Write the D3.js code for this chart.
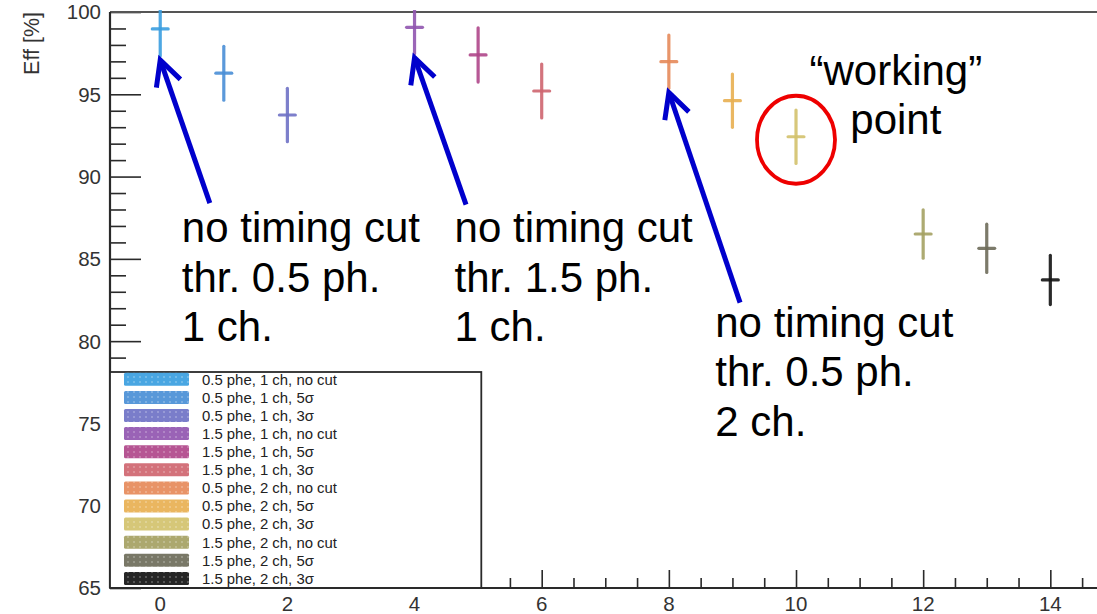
<!DOCTYPE html>
<html>
<head>
<meta charset="utf-8">
<script src="https://cdn.jsdelivr.net/npm/d3@7"></script>
<style>
  html, body { margin: 0; padding: 0; background: #fff; }
  svg { display: block; }
</style>
</head>
<body>
<svg id="chart" width="1097" height="614"></svg>
<script>
// Efficiency per configuration (threshold, channels, timing cut)
const configs = [
  "0.5 phe, 1 ch, no cut", "0.5 phe, 1 ch, 5σ", "0.5 phe, 1 ch, 3σ",
  "1.5 phe, 1 ch, no cut", "1.5 phe, 1 ch, 5σ", "1.5 phe, 1 ch, 3σ",
  "0.5 phe, 2 ch, no cut", "0.5 phe, 2 ch, 5σ", "0.5 phe, 2 ch, 3σ",
  "1.5 phe, 2 ch, no cut", "1.5 phe, 2 ch, 5σ", "1.5 phe, 2 ch, 3σ"
];
const xPos   = [0, 1, 2, 4, 5, 6, 8, 9, 10, 12, 13, 14];
const eff    = [98.97, 96.28, 93.74, 99.07, 97.39, 95.20, 96.98, 94.61, 92.42, 86.51, 85.64, 83.72];
const effErr = [1.64, 1.64, 1.62, 1.60, 1.65, 1.64, 1.62, 1.62, 1.62, 1.47, 1.47, 1.50];
const xErr   = 0.125;
const colors = ["#3a9ee0", "#4a8fd6", "#6f72c6", "#9156b0", "#b0478a", "#cf6670",
                "#e68a5a", "#e8b052", "#d3c26c", "#a5a163", "#6e6c5a", "#141414"];

const yTicksMajor = [65, 70, 75, 80, 85, 90, 95, 100];
const xTicksMajor = [0, 2, 4, 6, 8, 10, 12, 14];

// Annotations: arrows point at the no-cut configurations
const arrowTargets = [0, 3, 6];                 // indices into the series
const arrowTails = [[0.78, 88.39], [4.81, 88.30], [9.12, 82.34]];
const noteBlocks = [
  { x: 0.34, y: 86.0, lines: ["no timing cut", "thr. 0.5 ph.", "1 ch."] },
  { x: 4.63, y: 86.0, lines: ["no timing cut", "thr. 1.5 ph.", "1 ch."] },
  { x: 8.73, y: 80.27, lines: ["no timing cut", "thr. 0.5 ph.", "2 ch."] }
];
const workingIdx = 8;
const workingNote = { x: 11.57, y: 95.56, lines: ["\u201Cworking\u201D", "point"] };

const svg = d3.select("#chart");
const W = 1097, H = 614;
const padL = 110, padT = 12, padB = 588, padR = 1105;

const x = d3.scaleLinear().domain([-0.79, 14.86]).range([padL, padR]);
const y = d3.scaleLinear().domain([65, 100]).range([padB, padT]);

svg.append("rect").attr("width", W).attr("height", H).attr("fill", "#fff");

const defs = svg.append("defs");
defs.append("clipPath").attr("id", "frameClip")
  .append("rect").attr("x", padL).attr("y", padT - 2)
  .attr("width", padR - padL).attr("height", padB - padT + 2);

// dotted fill texture for legend swatches
const pat = defs.append("pattern").attr("id", "dots")
  .attr("patternUnits", "userSpaceOnUse").attr("width", 6).attr("height", 5);
pat.append("rect").attr("x", 1).attr("y", 1).attr("width", 2).attr("height", 2)
  .attr("fill", "#fff").attr("opacity", 0.22);

// ---- axes ----
const axisColor = "#2a2a2a";
const tickFont = "Liberation Sans, Arial, Helvetica, sans-serif";

// Y ticks: drawn inward from the left axis
const yAxis = d3.axisRight(y).tickValues(yTicksMajor).tickSize(31).tickFormat("");
const yMinor = d3.axisRight(y).tickValues(d3.range(65, 100.01, 1).filter(v => v % 5 !== 0))
  .tickSize(16).tickFormat("");
const gy = svg.append("g").attr("transform", `translate(${padL},0)`);
gy.call(yAxis); gy.append("g").call(yMinor);
gy.selectAll("path.domain").remove();
gy.selectAll("line").attr("stroke", axisColor).attr("stroke-width", 1.6);

// X ticks: drawn upward from the bottom axis
const xAxis = d3.axisTop(x).tickValues(xTicksMajor).tickSize(18).tickFormat("");
const xMinor = d3.axisTop(x).tickValues(d3.range(-0.5, 14.9, 0.5).filter(v => v % 2 !== 0))
  .tickSize(10).tickFormat("");
const gx = svg.append("g").attr("transform", `translate(0,${padB})`);
gx.call(xAxis); gx.append("g").call(xMinor);
gx.selectAll("path.domain").remove();
gx.selectAll("line").attr("stroke", axisColor).attr("stroke-width", 1.6);

// frame lines
svg.append("line").attr("x1", padL).attr("x2", padR).attr("y1", padT).attr("y2", padT)
  .attr("stroke", "#555").attr("stroke-width", 2);
svg.append("line").attr("x1", padL).attr("x2", padR).attr("y1", padB).attr("y2", padB)
  .attr("stroke", axisColor).attr("stroke-width", 2.2);
svg.append("line").attr("x1", padL).attr("x2", padL).attr("y1", padT).attr("y2", padB)
  .attr("stroke", axisColor).attr("stroke-width", 2.2);

// tick labels
svg.append("g").selectAll("text").data(yTicksMajor).join("text")
  .attr("x", 101).attr("y", d => y(d)).attr("dy", "0.36em")
  .attr("text-anchor", "end").attr("font-family", tickFont).attr("font-size", 20.5)
  .attr("fill", "#333").text(d => d);
svg.append("g").selectAll("text").data(xTicksMajor).join("text")
  .attr("x", d => x(d)).attr("y", 611)
  .attr("text-anchor", "middle").attr("font-family", tickFont).attr("font-size", 20.5)
  .attr("fill", "#333").text(d => d);

// y title
svg.append("text").attr("transform", `translate(39,12) rotate(-90)`)
  .attr("text-anchor", "end").attr("font-family", tickFont).attr("font-size", 21.5)
  .attr("fill", "#333").text("Eff [%]");

// ---- data: error crosses ----
const pts = svg.append("g").attr("clip-path", "url(#frameClip)")
  .selectAll("g").data(configs.map((c, i) => i)).join("g");
pts.append("line")
  .attr("x1", i => x(xPos[i])).attr("x2", i => x(xPos[i]))
  .attr("y1", i => y(eff[i] + effErr[i])).attr("y2", i => y(eff[i] - effErr[i]))
  .attr("stroke", i => colors[i]).attr("stroke-width", 3.2).attr("stroke-linecap", "round")
  .attr("opacity", 0.9);
pts.append("line")
  .attr("x1", i => x(xPos[i] - xErr)).attr("x2", i => x(xPos[i] + xErr))
  .attr("y1", i => y(eff[i])).attr("y2", i => y(eff[i]))
  .attr("stroke", i => colors[i]).attr("stroke-width", 3.2).attr("stroke-linecap", "round")
  .attr("opacity", 0.9);

// ---- legend ----
const lg = svg.append("g");
const lgX0 = x(-0.79), lgX1 = x(5.05), lgY0 = 372, lgY1 = padB;
lg.append("rect").attr("x", lgX0).attr("y", lgY0).attr("width", lgX1 - lgX0).attr("height", lgY1 - lgY0)
  .attr("fill", "#fff").attr("stroke", axisColor).attr("stroke-width", 1.8);
const rowH = 18.1, row0 = 379.3;
configs.forEach((c, i) => {
  const cy = row0 + i * rowH;
  lg.append("rect").attr("x", 124).attr("y", cy - 6.5).attr("width", 65).attr("height", 13)
    .attr("rx", 1.5).attr("fill", colors[i]).attr("opacity", 0.92);
  lg.append("rect").attr("x", 124).attr("y", cy - 6.5).attr("width", 65).attr("height", 13)
    .attr("fill", "url(#dots)");
  lg.append("text").attr("x", 202).attr("y", cy).attr("dy", "0.36em")
    .attr("font-family", tickFont).attr("font-size", 14.9).attr("fill", "#222").text(c);
});
// redraw bottom axis edge over the legend
svg.append("line").attr("x1", padL).attr("x2", lgX1).attr("y1", padB).attr("y2", padB)
  .attr("stroke", axisColor).attr("stroke-width", 2.2);

// ---- annotations ----
const annFont = "Liberation Sans, Arial, Helvetica, sans-serif";
const blue = "#0000cc";
arrowTargets.forEach((idx, k) => {
  const tx = x(xPos[idx]), ty = y(eff[idx] - effErr[idx]) + 4;
  const sx = x(arrowTails[k][0]), sy = y(arrowTails[k][1]);
  const ang = Math.atan2(sy - ty, sx - tx);
  const len = 28, spread = 27 * Math.PI / 180;
  const g = svg.append("g").attr("stroke", blue).attr("stroke-width", 5)
    .attr("fill", "none").attr("stroke-linecap", "butt");
  g.append("line").attr("x1", sx).attr("y1", sy).attr("x2", tx + Math.cos(ang) * 2).attr("y2", ty + Math.sin(ang) * 2);
  g.append("path").attr("stroke-linejoin", "miter").attr("d",
    `M${tx + Math.cos(ang - spread) * len},${ty + Math.sin(ang - spread) * len}` +
    `L${tx},${ty}` +
    `L${tx + Math.cos(ang + spread) * len},${ty + Math.sin(ang + spread) * len}`);
});

noteBlocks.forEach(b => {
  const t = svg.append("text").attr("font-family", annFont).attr("font-size", 42)
    .attr("fill", "#000");
  b.lines.forEach((ln, j) => {
    t.append("tspan").attr("x", x(b.x)).attr("y", y(b.y) + j * 49.5).text(ln);
  });
});

const wt = svg.append("text").attr("font-family", annFont).attr("font-size", 42)
  .attr("fill", "#000").attr("text-anchor", "middle");
workingNote.lines.forEach((ln, j) => {
  wt.append("tspan").attr("x", x(workingNote.x)).attr("y", y(workingNote.y) + j * 49).text(ln);
});

svg.append("ellipse")
  .attr("cx", x(xPos[workingIdx])).attr("cy", y(eff[workingIdx]) + 3)
  .attr("rx", 39).attr("ry", 44)
  .attr("fill", "none").attr("stroke", "#ee0000").attr("stroke-width", 3.8);
</script>
</body>
</html>
